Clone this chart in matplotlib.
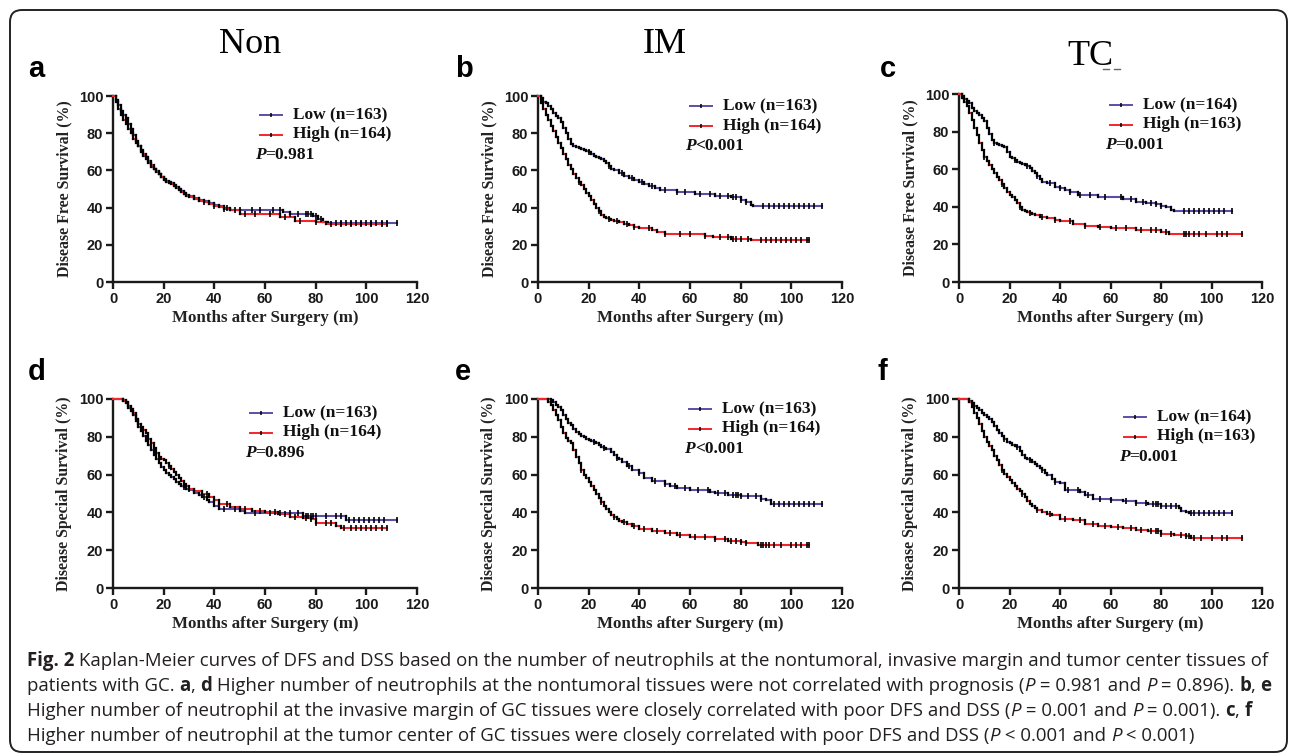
import matplotlib.pyplot as plt
import numpy as np
from matplotlib.patches import FancyBboxPatch
from matplotlib.lines import Line2D
from matplotlib.transforms import IdentityTransform

W, H, DPI = 1290, 754, 100

# monthly knots for the first 30 months, shared by every curve
early_t = list(range(31))

# ---- a : Non, disease free survival
a_low_s = [100, 98, 95, 92, 90, 88, 85, 82, 79, 76, 73, 70, 68, 66, 64, 62, 60.5, 59, 58, 56.5,
           55.5, 54.5, 53.5, 53, 52, 51, 50, 49, 48, 47, 46]
a_low_lt = [32, 34, 36, 38, 40, 42, 44, 46, 67, 70, 79, 81, 83, 85]
a_low_ls = [45, 44, 43.5, 42.5, 41.5, 41, 40, 38.5, 37.5, 36.7, 35.5, 34, 32.5, 31.7]
a_low_cens = [45, 50, 55, 58, 63, 66, 70, 73, 76, 77, 78, 80, 82, 88, 90, 92, 94, 96, 98, 100,
              102, 104, 106, 108, 112]
a_high_s = [100, 97, 93, 90, 87, 85, 82, 80, 77, 75, 73, 71, 69, 67, 65, 63, 61, 59.5, 58, 56.5,
            55, 54, 53, 52.5, 51.5, 50.5, 49.5, 48.5, 47.5, 46.5, 45.5]
a_high_lt = [32, 34, 36, 38, 40, 42, 44, 46, 50, 66, 72, 80, 84]
a_high_ls = [44.5, 43.5, 43, 42, 41, 40.5, 39.5, 38.5, 36.7, 35, 33, 32, 31]
a_high_cens = [36, 40, 44, 48, 52, 56, 62, 68, 74, 80, 86, 90, 94, 98, 102, 106, 108]

# ---- b : IM, disease free survival
b_low_s = [100, 99, 97, 96, 94.5, 93, 91, 89.5, 88, 86, 83, 80, 77, 74, 73, 72.5, 72, 71.5, 71,
           70.5, 70, 69, 68, 67, 66.5, 66, 65, 64, 62.5, 61, 60]
b_low_lt = [32, 34, 36, 38, 40, 42, 44, 46, 48, 55, 62, 70, 76, 80, 82, 84, 85]
b_low_ls = [58.5, 57, 56, 55, 54, 52.5, 51.5, 50.5, 49.5, 48.4, 47.5, 46.5, 45.5, 44, 43, 41.5, 40.7]
b_low_cens = [20, 28, 33, 37, 41, 45, 50, 55, 58, 64, 68, 72, 75, 77, 78, 80, 82, 89, 91, 93, 95,
              97, 99, 101, 103, 105, 107, 109, 112]
b_high_s = [100, 96, 93, 90, 87, 84, 81, 78, 75, 72, 69, 66, 63, 60.5, 58, 56, 54, 52, 50, 48,
            46, 44, 42, 40, 38, 36, 35, 34.5, 34, 33.5, 33]
b_high_lt = [32, 34, 36, 38, 40, 45, 47, 50, 66, 69, 76, 84]
b_high_ls = [32, 31, 30.5, 29.5, 29, 28, 27, 26, 25, 24, 23.3, 22.4]
b_high_cens = [16, 24, 28, 31, 35, 38, 44, 50, 56, 60, 66, 72, 75, 77, 78, 80, 83, 88, 90, 92,
               94, 96, 98, 100, 102, 104, 106, 107]

# ---- c : TC, disease free survival
c_low_s = [100, 99, 97.5, 96.5, 95, 92.5, 91, 90, 89, 87.5, 85.5, 82, 78.5, 75.5, 74, 73.3, 72.8,
           72.5, 72, 69, 66.7, 66, 65, 64, 63.5, 63, 62.5, 61.5, 60.5, 59, 57.8]
c_low_lt = [31, 32, 33, 35, 38, 40, 42, 44, 47, 55, 65, 70, 74, 78, 80, 82, 84, 85]
c_low_ls = [56.5, 55, 53.4, 52.8, 50.7, 50, 49, 48, 46.3, 45.4, 44, 42.7, 42, 41.5, 40.5, 40,
            38.5, 37.7]
c_low_cens = [14, 22, 27, 31, 36, 40, 44, 48, 52, 58, 64, 68, 73, 76, 78, 80, 89, 91, 93, 95, 97,
              99, 101, 103, 105, 108]
c_high_s = [100, 98, 95.5, 93.4, 90, 86.3, 82, 78, 73.8, 70, 66.7, 64.5, 62.3, 60, 58, 56, 54, 52,
            50, 48, 46.3, 45, 43.5, 41.8, 40, 38.3, 37.8, 37, 36.5, 36, 35.6]
c_high_lt = [32, 35, 38, 40, 45, 50, 55, 60, 70, 80, 83]
c_high_ls = [34.8, 33.8, 33, 32.6, 31, 30, 29.5, 28.5, 27.6, 26.7, 25.3]
c_high_cens = [10, 17, 24, 28, 33, 38, 44, 50, 56, 62, 66, 72, 76, 78, 82, 89, 90, 91, 93, 95, 98,
               102, 104, 106, 112]

# ---- d : Non, disease special survival
d_low_s = [100, 100, 100, 100, 99, 97.7, 95.5, 93.5, 91.5, 88.5, 85.3, 83, 80.5, 78, 75.5, 73,
           70.5, 68, 66, 64, 62.3, 61, 60, 58.8, 57.5, 56, 55, 54.2, 53.3, 52.5, 51.7]
d_low_lt = [32, 34, 35, 37, 38, 40, 42, 50, 52, 75, 92]
d_low_ls = [50.3, 49, 48, 46.5, 45.5, 43.5, 42, 40.7, 39.6, 37.9, 35.8]
d_low_cens = [28, 36, 44, 48, 56, 62, 66, 70, 73, 76, 77, 78, 79, 80, 84, 88, 90, 93, 95, 97, 99,
              101, 103, 105, 107, 112]
d_high_s = [100, 100, 100, 100, 99.5, 98.6, 96.5, 94.5, 92.4, 89.5, 87, 85, 83.5, 81.8, 79, 76.5,
            74, 71.5, 69.4, 68.5, 67.6, 66, 64.5, 63, 61.3, 59.6, 58, 56.6, 55, 53.8, 52.6]
d_high_lt = [32, 35, 38, 40, 42, 46, 50, 55, 60, 65, 70, 75, 78, 80, 88, 90]
d_high_ls = [51.5, 50, 48, 46.5, 44.6, 43, 42, 41, 40.2, 39.3, 37.5, 37, 36.6, 34.3, 33, 31.7]
d_high_cens = [14, 22, 30, 37, 45, 52, 58, 64, 68, 72, 76, 78, 80, 84, 86, 91, 94, 96, 98, 100,
               102, 104, 106, 108]

# ---- e : IM, disease special survival
e_low_s = [100, 100, 100, 100, 100, 99.5, 98.5, 97, 96, 94, 91.5, 89.5, 87.5, 86, 84, 82.6, 81.5,
           80.5, 80, 79, 78.2, 77.8, 77.3, 76.8, 75.8, 74.7, 74.2, 73.8, 73.3, 71.8, 70.3]
e_low_lt = [31, 32, 33, 35, 37, 40, 42, 45, 50, 52, 55, 60, 65, 68, 70, 75, 80, 88, 90, 92]
e_low_ls = [69, 68, 66.7, 64.5, 62.3, 61, 58, 56.6, 55.2, 54, 53, 52, 51.7, 50.8, 50.3, 49.4,
            48.5, 47.3, 46.4, 44.6]
e_low_cens = [22, 26, 31, 36, 40, 46, 50, 54, 58, 63, 67, 71, 74, 77, 78, 79, 80, 83, 86, 88, 93,
              95, 97, 99, 101, 103, 105, 107, 109, 112]
e_high_s = [100, 100, 100, 100, 98.5, 96.8, 94, 91.5, 88.8, 85, 81.8, 79.5, 78, 76.5, 73, 69.4,
            66, 62.3, 60, 58, 56, 54, 52, 50, 47.5, 45.5, 43.5, 41.8, 40.2, 38.8, 37.5]
e_high_lt = [31, 32, 33, 35, 37, 40, 45, 50, 55, 60, 70, 75, 80, 82, 87]
e_high_ls = [36.5, 35.7, 34.9, 33.8, 32.6, 31.3, 30, 29, 27.8, 26.9, 26, 25, 24.2, 23.7, 22.8]
e_high_cens = [17, 25, 30, 34, 38, 42, 47, 52, 56, 62, 66, 70, 74, 76, 78, 80, 82, 88, 89, 90, 91,
               93, 96, 100, 102, 104, 106, 107]

# ---- f : TC, disease special survival
f_low_s = [100, 100, 100, 100, 99, 97.7, 96.5, 95, 94, 92.5, 91.5, 90.5, 89.5, 88, 85.5, 83.5, 82,
           80.5, 79, 77.5, 76.5, 75.5, 75, 74.7, 72.5, 70.3, 69, 68, 67.6, 66.8, 65.8]
f_low_lt = [31, 32, 33, 34, 35, 37, 38, 40, 42, 48, 50, 53, 60, 65, 70, 75, 80, 87, 88, 90, 91]
f_low_ls = [64.5, 63.5, 62.3, 61, 59.6, 57.5, 56, 55.5, 51.7, 50.8, 49, 47.3, 46.4, 46, 45, 44.2,
            43.2, 42.5, 41, 40.2, 39.8]
f_low_cens = [18, 23, 28, 33, 38, 43, 47, 51, 56, 60, 66, 70, 74, 77, 78, 79, 80, 82, 84, 86, 92,
              93, 95, 97, 99, 101, 103, 105, 108]
f_high_s = [100, 100, 100, 100, 98.5, 96, 92.5, 90, 87, 83, 80, 77.5, 75, 73, 70, 67.6, 65, 62.3,
            60.5, 58.5, 57, 55.5, 54, 52.6, 51.3, 50, 48, 46, 44.6, 43.5, 42.5]
f_high_lt = [31, 33, 35, 37, 40, 45, 50, 55, 60, 65, 70, 75, 80, 85, 90, 92]
f_high_ls = [41.5, 40.2, 39.3, 38.4, 36.6, 35.8, 34, 33, 32.2, 31.5, 30.8, 30, 28.7, 28, 27.3, 26.4]
f_high_cens = [17, 25, 31, 36, 42, 48, 53, 58, 63, 68, 72, 76, 78, 79, 80, 84, 88, 90, 91, 93, 96,
               100, 104, 106, 112]

letters = ["a", "b", "c", "d", "e", "f"]
col_titles = ["Non", "IM", "TC"]
ylabels = ["Disease Free Survival (%)", "Disease Special Survival (%)"]
low_labels = ["Low (n=163)", "Low (n=163)", "Low (n=164)", "Low (n=163)", "Low (n=163)", "Low (n=164)"]
high_labels = ["High (n=164)", "High (n=164)", "High (n=163)", "High (n=164)", "High (n=164)", "High (n=163)"]
p_ops = ["=", "<", "=", "=", "<", "="]
p_vals = ["0.981", "0.001", "0.001", "0.896", "0.001", "0.001"]
x_ticks = [0, 20, 40, 60, 80, 100, 120]
y_ticks = [0, 20, 40, 60, 80, 100]

curves = [
    ((a_low_s, a_low_lt, a_low_ls, a_low_cens), (a_high_s, a_high_lt, a_high_ls, a_high_cens)),
    ((b_low_s, b_low_lt, b_low_ls, b_low_cens), (b_high_s, b_high_lt, b_high_ls, b_high_cens)),
    ((c_low_s, c_low_lt, c_low_ls, c_low_cens), (c_high_s, c_high_lt, c_high_ls, c_high_cens)),
    ((d_low_s, d_low_lt, d_low_ls, d_low_cens), (d_high_s, d_high_lt, d_high_ls, d_high_cens)),
    ((e_low_s, e_low_lt, e_low_ls, e_low_cens), (e_high_s, e_high_lt, e_high_ls, e_high_cens)),
    ((f_low_s, f_low_lt, f_low_ls, f_low_cens), (f_high_s, f_high_lt, f_high_ls, f_high_cens)),
]

caption_lines = [
    [("Fig. 2", "bold", "normal"), (" Kaplan-Meier curves of DFS and DSS based on the number of neutrophils at the nontumoral, invasive margin and tumor center tissues of", "normal", "normal")],
    [("patients with GC. ", "normal", "normal"), ("a", "bold", "normal"), (", ", "normal", "normal"), ("d", "bold", "normal"),
     (" Higher number of neutrophils at the nontumoral tissues were not correlated with prognosis (", "normal", "normal"),
     ("P", "normal", "italic"), (" = 0.981 and ", "normal", "normal"), ("P", "normal", "italic"), (" = 0.896). ", "normal", "normal"),
     ("b", "bold", "normal"), (", ", "normal", "normal"), ("e", "bold", "normal")],
    [("Higher number of neutrophil at the invasive margin of GC tissues were closely correlated with poor DFS and DSS (", "normal", "normal"),
     ("P", "normal", "italic"), (" = 0.001 and ", "normal", "normal"), ("P", "normal", "italic"), (" = 0.001). ", "normal", "normal"),
     ("c", "bold", "normal"), (", ", "normal", "normal"), ("f", "bold", "normal")],
    [("Higher number of neutrophil at the tumor center of GC tissues were closely correlated with poor DFS and DSS (", "normal", "normal"),
     ("P", "normal", "italic"), (" < 0.001 and ", "normal", "normal"), ("P", "normal", "italic"), (" < 0.001)", "normal", "normal")],
]

LOW_C = "#5a4fa6"
HIGH_C = "#f2262b"
SERIF = "Liberation Serif"
SANS = "Liberation Sans"

plt.rcParams["font.family"] = SANS

fig = plt.figure(figsize=(W / DPI, H / DPI), dpi=DPI)
renderer = fig.canvas.get_renderer()


def fx(px):
    return px / W


def fy(py):
    return 1 - py / H


def advance(s, **kw):
    # width of a run including leading/trailing spaces
    t1 = fig.text(0, 0, "x" + s + "x", **kw)
    t2 = fig.text(0, 0, "xx", **kw)
    w = t1.get_window_extent(renderer).width - t2.get_window_extent(renderer).width
    t1.remove()
    t2.remove()
    return w


def draw_runs(x, y, runs, **kw):
    for s, w, st in runs:
        fig.text(fx(x), fy(y), s, fontweight=w, fontstyle=st, va="baseline", **kw)
        x += advance(s, fontweight=w, fontstyle=st, **kw)


def km(ax, early, lt, ls, cens, color):
    t = np.array(early_t + lt + [cens[-1]], float)
    s = np.array(early + ls + [ls[-1]], float)
    ax.hlines(s[:-1], t[:-1], t[1:], color=color, lw=1.5, capstyle="projecting", clip_on=False, zorder=3)
    ax.vlines(t[1:-1], s[1:-1], s[:-2], color="black", lw=1.6, capstyle="projecting", clip_on=False, zorder=3)
    idx = np.searchsorted(t, cens, side="right") - 1
    ax.plot(cens, s[idx], ls="none", marker="|", color="black", ms=4, mew=1.2, clip_on=False, zorder=4)


# axes boxes in pixels: left, top, width, height
boxes = [(113, 96, 304, 186), (538, 96, 304, 186), (959, 94, 303, 188),
         (113, 399, 304, 189), (538, 399, 304, 189), (959, 399, 303, 189)]
# legend line start / first row offsets (px) from the axes top-left corner
leg_off = [(147, 19), (152, 10), (151, 11), (137, 14), (151, 10), (165, 18)]
letter_pos = [(28, 77), (455, 77), (880, 77), (28, 380), (455, 380), (878, 380)]
title_pos = [(250, 53), (665, 53), (1090, 65)]

for i in range(6):
    left, top, wd, ht = boxes[i]
    ax = fig.add_axes([fx(left), fy(top + ht), wd / W, ht / H])
    ax.set_facecolor("none")
    (lo, hi) = curves[i]
    km(ax, *lo, LOW_C)
    km(ax, *hi, HIGH_C)
    ax.set_xlim(0, 120)
    ax.set_ylim(0, 100)
    ax.set_xticks(x_ticks)
    ax.set_yticks(y_ticks)
    for side in ["top", "right"]:
        ax.spines[side].set_visible(False)
    for side in ["left", "bottom"]:
        ax.spines[side].set_linewidth(1.7)
        ax.spines[side].set_color("#1a1a1a")
    ax.tick_params(direction="out", length=5, width=1.7, labelsize=10.5, pad=2, color="#1a1a1a")
    for lab in ax.get_xticklabels() + ax.get_yticklabels():
        lab.set_fontweight("bold")
        lab.set_color("#1a1a1a")
    ax.set_ylabel(ylabels[i // 3], family=SERIF, fontweight="bold", fontsize=11.4, color="#222222")
    ax.yaxis.set_label_coords(-41 / wd, 0.5)
    ax.set_xlabel("Months after Surgery (m)", family=SERIF, fontweight="bold", fontsize=12.2, color="#222222")
    ax.xaxis.set_label_coords(0.5, -28 / ht)

    # legend drawn by hand
    ox, oy = leg_off[i]
    for r, (lab, col) in enumerate([(low_labels[i], LOW_C), (high_labels[i], HIGH_C)]):
        yy = 1 - (oy + 19.5 * r) / ht
        ax.plot([ox / wd, (ox + 22) / wd], [yy, yy], color=col, lw=1.4, transform=ax.transAxes, clip_on=False)
        ax.plot([(ox + 11) / wd], [yy], marker="|", color="black", ms=3.5, mew=1.1,
                transform=ax.transAxes, clip_on=False)
        ax.text((ox + 33) / wd, yy, lab, transform=ax.transAxes, family=SERIF, fontweight="bold",
                fontsize=12.5, va="center", ha="left", color="#111111")
    draw_runs(left + ox - 5, top + oy + 39 + 5,
              [("P", "bold", "italic"), (p_ops[i] + p_vals[i], "bold", "normal")],
              family=SERIF, fontsize=12.5, color="#111111")

    lx, ly = letter_pos[i]
    fig.text(fx(lx), fy(ly), letters[i], family=SANS, fontweight="bold", fontsize=21, va="baseline")

for j in range(3):
    tx, ty = title_pos[j]
    fig.text(fx(tx), fy(ty), col_titles[j], family=SERIF, fontweight="normal", fontsize=26,
             ha="center", va="baseline")
# faint dashes printed under "TC" in the source figure
for x0, x1 in [(1103, 1109), (1114, 1120)]:
    fig.lines.append(Line2D([x0, x1], [H - 69, H - 69], transform=IdentityTransform(),
                            color="#666666", lw=1.0))

for k, runs in enumerate(caption_lines):
    draw_runs(27, 666 + 25 * k, runs, family="Open Sans", fontsize=13.4, color="#231f20")

border = FancyBboxPatch((10, 2), 1277, 742, boxstyle="round,pad=0,rounding_size=12",
                        transform=IdentityTransform(), fill=False, lw=1.4, ec="#222222")
fig.patches.append(border)

fig.savefig("out.png", dpi=DPI)
